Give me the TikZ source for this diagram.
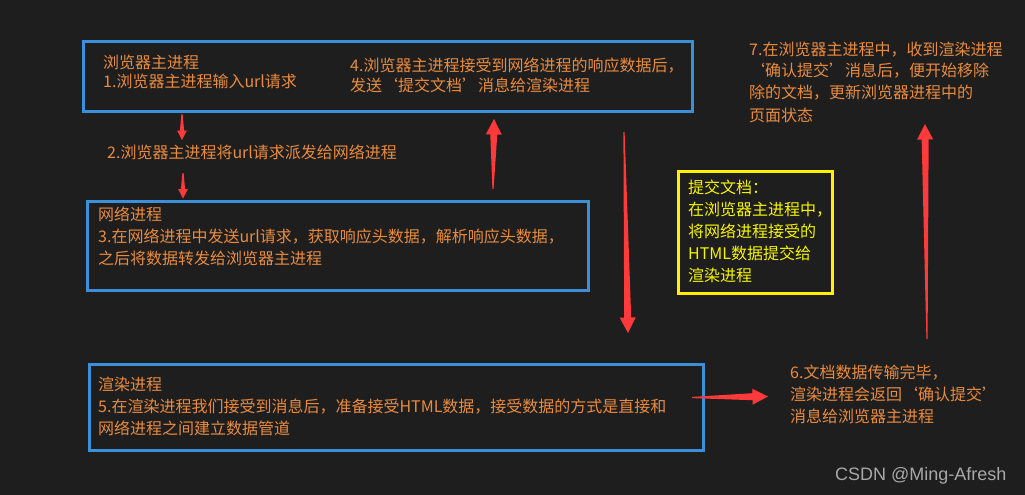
\documentclass[tikz,border=0pt]{standalone}
\usepackage{fontspec}
\setmainfont{Noto Sans CJK SC}
\newfontfamily\markfont{Liberation Sans}
\definecolor{BGdark}{HTML}{1E1E1E}
\definecolor{NoteOrange}{HTML}{E98B3F}
\definecolor{BoxBlue}{HTML}{3B8FDB}
\definecolor{NoteYellow}{HTML}{F5F500}
\definecolor{ArrowRed}{HTML}{FF3A3A}
\definecolor{MarkGray}{HTML}{A8A8A8}
\usetikzlibrary{calc}
% tapered red arrow: [size]{tail}{tip}
\newcommand\redarrow[3][1]{%
  \path (#3) coordinate (tipend) ($(#3)!#1*15.5pt!(#2)$) coordinate (headbase);
  \fill[ArrowRed] ($(#2)!0.6pt!90:(#3)$) -- ($(headbase)!#1*3.5pt!90:(tipend)$)
    -- ($(headbase)!#1*8pt!90:(tipend)$) -- (tipend)
    -- ($(headbase)!#1*8pt!-90:(tipend)$) -- ($(headbase)!#1*3.5pt!-90:(tipend)$)
    -- ($(#2)!0.6pt!-90:(#3)$) -- cycle;}

\begin{document}
\begin{tikzpicture}[x=1pt, y=-1pt,
    note/.style={anchor=base west, inner sep=0pt, align=left, text=NoteOrange,
      font=\fontsize{16}{22}\selectfont},
    procbox/.style={draw=BoxBlue, line width=3pt, anchor=north west, inner sep=0pt},
    markbox/.style={draw=yellow, line width=3pt, anchor=north west, inner sep=0pt}]
  % Background
  \fill[BGdark] (0,0) rectangle (1025,495);
  \useasboundingbox (0,0) rectangle (1025,495);
  % Process boxes
  \node[procbox, minimum width=608.5pt, minimum height=69pt] (mainbox) at (82,40.5) {};
  \node[procbox, minimum width=501pt, minimum height=89pt] (netbox) at (86,200) {};
  \node[procbox, minimum width=614pt, minimum height=86pt] (renderbox) at (88,363) {};
  \node[markbox, minimum width=154pt, minimum height=122pt] (commitbox) at (677,170) {};
  % Texts (placed at the baseline of their last line)
  \node[note] (step1) at (103,87) {浏览器主进程\\[-3pt]1.浏览器主进程输入url请求};
  \node[note] (step4) at (350,91) {4.浏览器主进程接受到网络进程的响应数据后，\\[-2pt]发送‘提交文档’消息给渲染进程};
  \node[note] (step2) at (107,158) {2.浏览器主进程将url请求派发给网络进程};
  \node[note] (step3) at (98,264) {网络进程\\3.在网络进程中发送url请求，获取响应头数据，解析响应头数据，\\之后将数据转发给浏览器主进程};
  \node[note] (step5) at (98,434) {渲染进程\\5.在渲染进程我们接受到消息后，准备接受HTML数据，接受数据的方式是直接和\\网络进程之间建立数据管道};
  \node[note] (step6) at (790,422.5) {6.文档数据传输完毕，\\渲染进程会返回‘确认提交’\\消息给浏览器主进程};
  \node[note] (step7) at (749,121) {7.在浏览器主进程中，收到渲染进程\\‘确认提交’消息后，便开始移除\\除的文档，更新浏览器进程中的\\页面状态};
  \node[note, text=NoteYellow] (commit) at (688,281) {提交文档：\\在浏览器主进程中，\\将网络进程接受的\\HTML数据提交给\\渲染进程};
  % Arrow ends
  \coordinate (s1) at (182,114);   \coordinate (e1) at (182,140);
  \coordinate (s2) at (183,173);   \coordinate (e2) at (183,198.5);
  \coordinate (s3) at (493,189);   \coordinate (e3) at (494,119);
  \coordinate (s4) at (624,132);   \coordinate (e4) at (628,333);
  \coordinate (s5) at (692,397.5); \coordinate (e5) at (768,396.5);
  \coordinate (s6) at (927,339);   \coordinate (e6) at (925,124);
  \redarrow[0.6]{s1}{e1}
  \redarrow[0.6]{s2}{e2}
  \redarrow{s3}{e3}
  \redarrow{s4}{e4}
  \redarrow{s5}{e5}
  \redarrow{s6}{e6}
  % Watermark
  \node[anchor=base west, inner sep=0pt, text=MarkGray, font=\markfont\fontsize{18}{20}\selectfont] (mark) at (835,480.5) {CSDN @Ming-Afresh};
\end{tikzpicture}
\end{document}
